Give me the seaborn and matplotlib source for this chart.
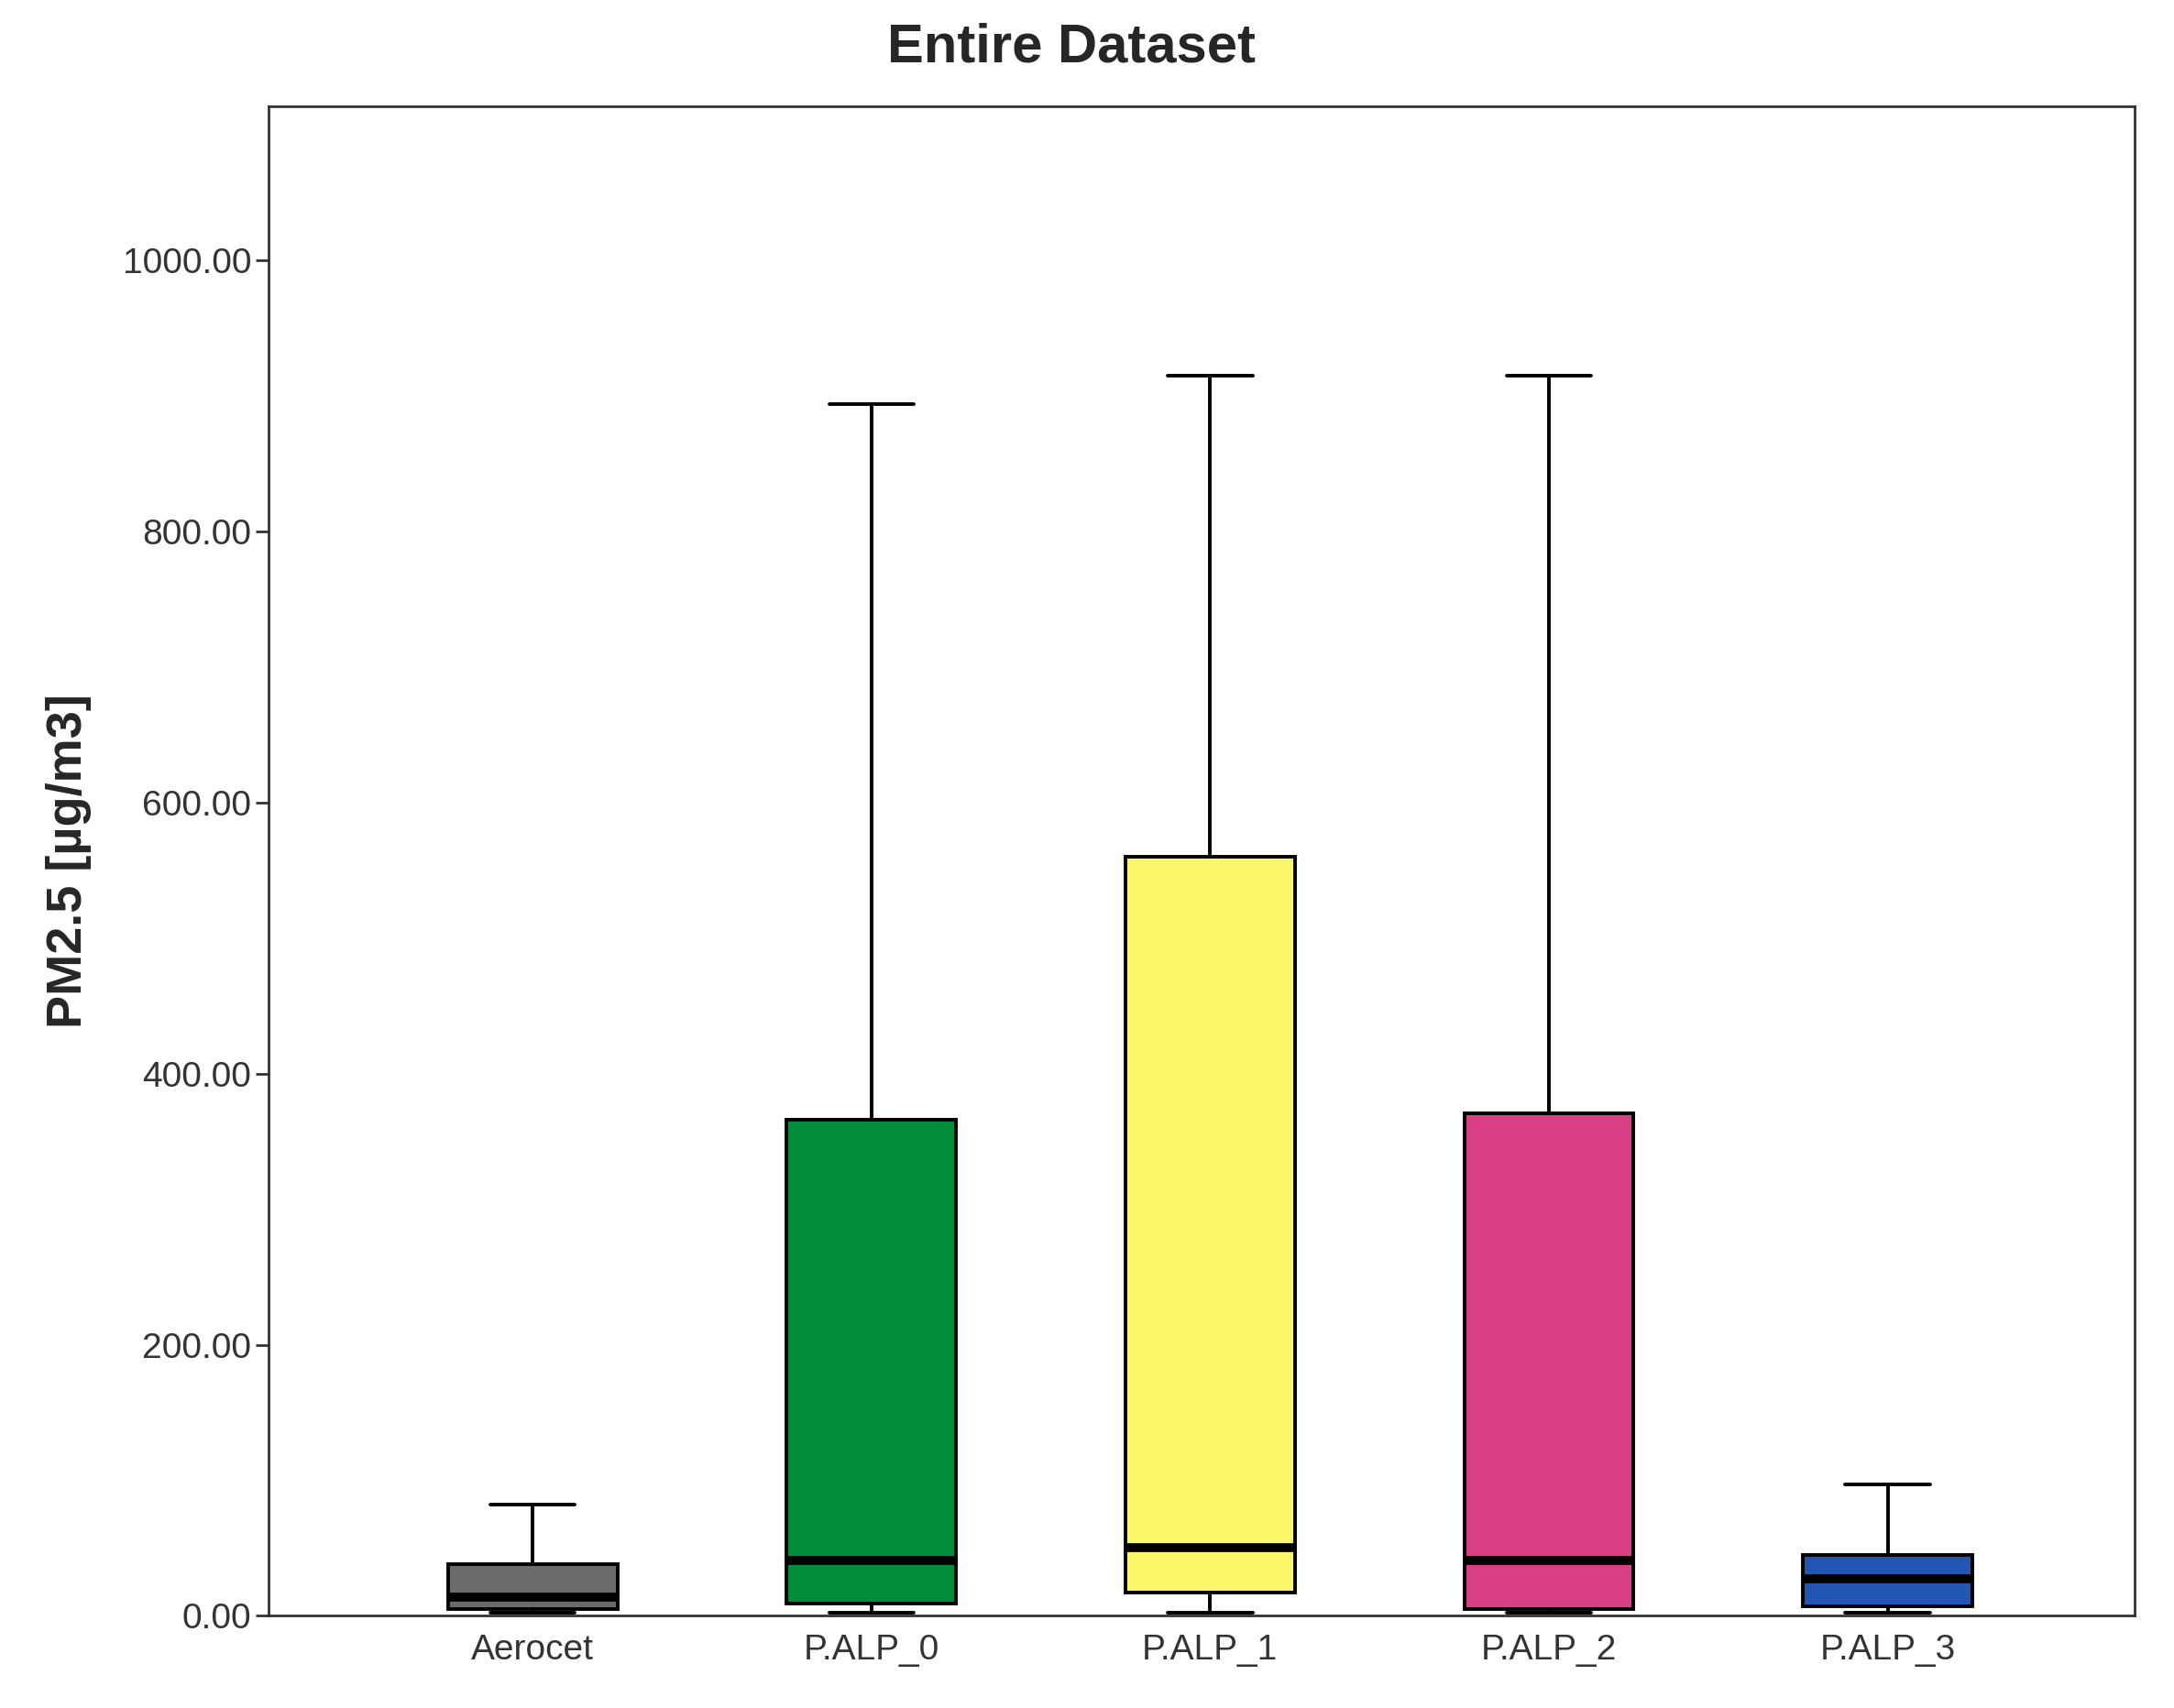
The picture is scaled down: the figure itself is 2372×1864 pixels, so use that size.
import numpy as np
import pandas as pd
import matplotlib
matplotlib.use("Agg")
import matplotlib.pyplot as plt
import seaborn as sns
import matplotlib.ticker as ticker

# box statistics (µg/m3)
sensors = ["Aerocet", "P.ALP_0", "P.ALP_1", "P.ALP_2", "P.ALP_3"]
whisker_low = [2, 2, 2, 2, 2]
q1 = [5, 9, 17, 5, 7]
median = [14, 41, 50, 41, 27]
q3 = [38, 366, 560, 371, 45]
whisker_high = [82, 894, 915, 915, 97]
colors = ["#6b6b6b", "#008c3a", "#fbf66a", "#d93f86", "#2355b5"]

sns.set_theme(style="ticks")
plt.rcParams['font.family'] = ['Arial', 'Liberation Sans', 'DejaVu Sans']

# five points per sensor reproduce the quartiles exactly
rows = []
for s, lo, a, m, b, hi in zip(sensors, whisker_low, q1, median, q3, whisker_high):
    for v in (lo, a, m, b, hi):
        rows.append({"sensor": s, "pm25": v})
df = pd.DataFrame(rows)

fig = plt.figure(figsize=(23.72, 18.64), dpi=100)
ax = fig.add_axes([0.1235, 0.054, 0.8585, 0.884])

sns.boxplot(data=df, x="sensor", y="pm25", order=sensors, hue="sensor",
            palette=colors, legend=False, whis=(0, 100), width=0.5, ax=ax,
            linecolor="black", linewidth=2.8, saturation=1,
            medianprops=dict(color="black", linewidth=7))

ax.set_xlim(-0.78, 4.73)
ax.set_ylim(0, 1114)
ax.set_yticks([0, 200, 400, 600, 800, 1000])
ax.yaxis.set_major_formatter(ticker.FormatStrFormatter('%.2f'))
ax.tick_params(axis='y', labelsize=28, length=10, width=2, colors='#333333', labelcolor='#333333')
ax.tick_params(axis='x', labelsize=28, length=0, pad=14, labelcolor='#333333')
for sp in ax.spines.values():
    sp.set_linewidth(2)
    sp.set_color('#333333')
    sp.set_visible(True)

ax.set_xlabel("")
ax.set_ylabel("PM2.5 [µg/m3]", fontsize=39, fontweight='bold', labelpad=24)
fig.text(0.493, 0.972, "Entire Dataset", fontsize=43, fontweight='bold',
         ha='center', va='center')

fig.savefig("out.png", dpi=100)
